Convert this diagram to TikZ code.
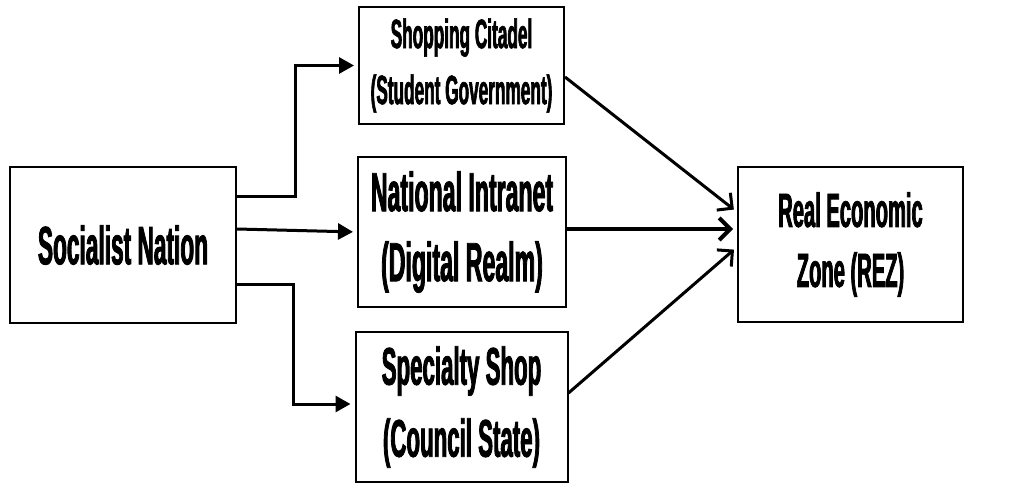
\documentclass[tikz,border=0pt]{standalone}
\usepackage{fontspec}
\newfontfamily\cf[FakeStretch=0.42,FakeBold=1.5]{Liberation Sans Bold}
\usetikzlibrary{arrows.meta}
\tikzset{
  box/.style={draw=black, line width=2pt, rectangle, inner sep=0pt, align=center},
  larr/.style={line width=3pt, -{Triangle[length=15pt,width=16pt]}, shorten >=4pt},
  rarr/.style={line width=3pt, -{Straight Barb[length=11pt,width=22pt]}, shorten >=4pt}
}
\begin{document}
\begin{tikzpicture}[x=1pt,y=-1pt]
\useasboundingbox (0,0) rectangle (1024,489);
\fill[white] (0,0) rectangle (1024,489);
\node[box, minimum width=226pt, minimum height=156pt,
  font={\cf\fontsize{54}{66}\selectfont}] (sn) at (123,245) {Socialist Nation};
\node[box, minimum width=205pt, minimum height=117pt,
  font={\cf\fontsize{41}{56}\selectfont}] (sc) at (461.5,65.5)
  {Shopping Citadel\\(Student Government)};
\node[box, minimum width=208pt, minimum height=150pt,
  font={\cf\fontsize{55}{70}\selectfont}] (ni) at (462,232)
  {National Intranet\\(Digital Realm)};
\node[box, minimum width=212pt, minimum height=150pt,
  font={\cf\fontsize{53}{72}\selectfont}] (ss) at (461.5,407)
  {Specialty Shop\\(Council State)};
\node[box, minimum width=225pt, minimum height=155pt,
  font={\cf\fontsize{48}{60}\selectfont}] (rez) at (850.5,244.5)
  {Real Economic\\Zone (REZ)};
% left connectors
\draw[larr] (sn.east |- 0,196) -- (295,196) |- (sc.west);
\draw[larr] (sn.east |- 0,229) -- (ni.west |- 0,232);
\draw[larr] (sn.east |- 0,284) -- (293,284) |- (ss.west |- 0,404);
% right connectors
\draw[rarr] (sc.east |- 0,77) -- (rez.west |- 0,212);
\draw[rarr, line width=4pt] (ni.east |- 0,229) -- (rez.west |- 0,229);
\draw[rarr] (ss.east |- 0,393) -- (rez.west |- 0,247);
\end{tikzpicture}
\end{document}
